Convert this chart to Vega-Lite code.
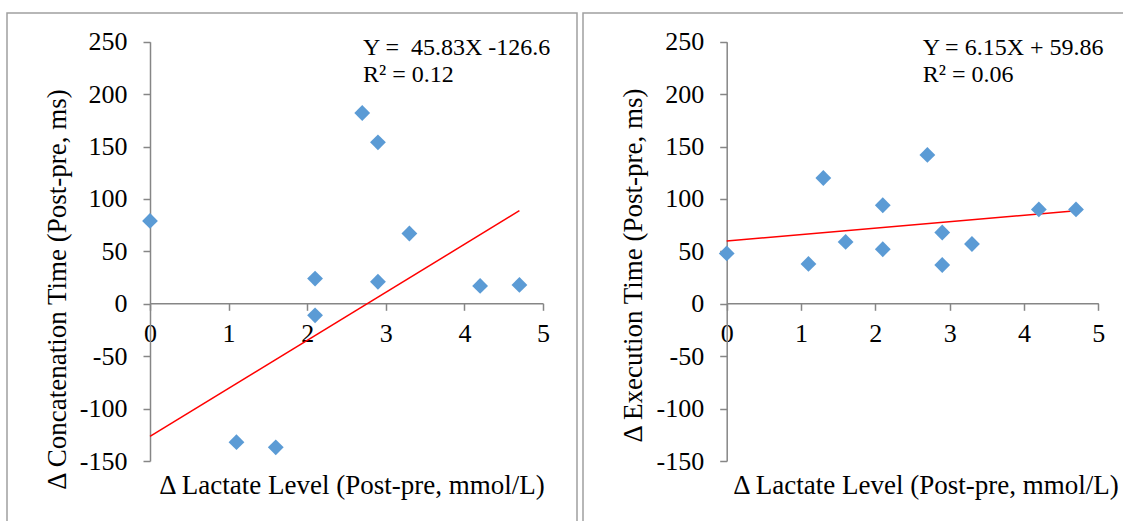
{
  "$schema": "https://vega.github.io/schema/vega-lite/v6.json",
  "padding": {"left": 6, "top": 12, "right": 0, "bottom": 0},
  "bounds": "flush",
  "spacing": 6,
  "config": {
    "view": {"stroke": "#a0a0a0", "strokeWidth": 1.5},
    "axis": {
      "labelFont": "Liberation Serif", "titleFont": "Liberation Serif",
      "labelFontSize": 26, "titleFontSize": 27, "titleFontWeight": "normal",
      "labelColor": "#000000", "titleColor": "#000000",
      "domainColor": "#868686", "tickColor": "#868686",
      "domainWidth": 1.5, "tickWidth": 1.5, "tickSize": 7, "grid": false,
      "labelFlush": false, "labelOverlap": false,
      "labelExpr": "toString(datum.value)"
    }
  },
  "datasets": {
    "conc": [
      {"lactate": 0, "delta": 79}, {"lactate": 1.1, "delta": -132}, {"lactate": 1.6, "delta": -137},
      {"lactate": 2.1, "delta": 24}, {"lactate": 2.1, "delta": -11}, {"lactate": 2.7, "delta": 182},
      {"lactate": 2.9, "delta": 154}, {"lactate": 2.9, "delta": 21}, {"lactate": 3.3, "delta": 67},
      {"lactate": 4.2, "delta": 17}, {"lactate": 4.7, "delta": 18}
    ],
    "exec": [
      {"lactate": 0, "delta": 48}, {"lactate": 1.1, "delta": 38}, {"lactate": 1.3, "delta": 120},
      {"lactate": 1.6, "delta": 59}, {"lactate": 2.1, "delta": 94}, {"lactate": 2.1, "delta": 52},
      {"lactate": 2.7, "delta": 142}, {"lactate": 2.9, "delta": 68}, {"lactate": 2.9, "delta": 37},
      {"lactate": 3.3, "delta": 57}, {"lactate": 4.2, "delta": 90}, {"lactate": 4.7, "delta": 90}
    ],
    "fitc": [{"lactate": 0, "delta": -126.6}, {"lactate": 4.7, "delta": 88.8}],
    "fite": [{"lactate": 0, "delta": 59.86}, {"lactate": 4.7, "delta": 88.8}],
    "eqc": [{"label": "Y =\u00a0 45.83X -126.6\nR² = 0.12"}],
    "eqe": [{"label": "Y = 6.15X + 59.86\nR² = 0.06"}]
  },
  "hconcat": [
    {
      "width": 570, "height": 510,
      "layer": [
        {
          "data": {"name": "fitc"},
          "mark": {"type": "line", "color": "#ff0000", "strokeWidth": 1.5},
          "encoding": {
            "x": {"field": "lactate", "type": "quantitative",
              "scale": {"domain": [0, 5], "range": [143, 536]},
              "axis": {"values": [0, 1, 2, 3, 4, 5], "offset": -219.7, "labelPadding": 10,
                "title": "Δ Lactate Level (Post-pre, mmol/L)", "titleX": 344.5, "titleY": 189.7,
                "titleAlign": "center", "titleBaseline": "alphabetic"}},
            "y": {"field": "delta", "type": "quantitative",
              "scale": {"domain": [-150, 250], "range": [448, 28.7]},
              "axis": {"values": [-150, -100, -50, 0, 50, 100, 150, 200, 250], "offset": -143, "labelPadding": 16,
                "title": "Δ Concatenation Time (Post-pre, ms)", "titleX": -85, "titleY": 276, "titleAngle": 270,
                "titleAlign": "center", "titleBaseline": "alphabetic"}}
          }
        },
        {
          "data": {"name": "conc"},
          "mark": {"type": "point", "shape": "diamond", "filled": true, "size": 250, "color": "#5b9bd5", "opacity": 1},
          "encoding": {
            "x": {"field": "lactate", "type": "quantitative"},
            "y": {"field": "delta", "type": "quantitative"}
          }
        },
        {
          "data": {"name": "eqc"},
          "mark": {"type": "text", "font": "Liberation Serif", "fontSize": 24, "align": "left", "baseline": "alphabetic", "lineBreak": "\n", "lineHeight": 26.7, "color": "#000000"},
          "encoding": {
            "x": {"datum": 2.71, "type": "quantitative"},
            "y": {"datum": 237, "type": "quantitative"},
            "text": {"field": "label"}
          }
        }
      ]
    },
    {
      "width": 545, "height": 510,
      "layer": [
        {
          "data": {"name": "fite"},
          "mark": {"type": "line", "color": "#ff0000", "strokeWidth": 1.5},
          "encoding": {
            "x": {"field": "lactate", "type": "quantitative",
              "scale": {"domain": [0, 5], "range": [143.7, 515.3]},
              "axis": {"values": [0, 1, 2, 3, 4, 5], "offset": -219.7, "labelPadding": 10,
                "title": "Δ Lactate Level (Post-pre, mmol/L)", "titleX": 342.4, "titleY": 189.7,
                "titleAlign": "center", "titleBaseline": "alphabetic"}},
            "y": {"field": "delta", "type": "quantitative",
              "scale": {"domain": [-150, 250], "range": [448, 28.7]},
              "axis": {"values": [-150, -100, -50, 0, 50, 100, 150, 200, 250], "offset": -143.7, "labelPadding": 16,
                "title": "Δ Execution Time (Post-pre, ms)", "titleX": -85, "titleY": 252, "titleAngle": 270,
                "titleAlign": "center", "titleBaseline": "alphabetic"}}
          }
        },
        {
          "data": {"name": "exec"},
          "mark": {"type": "point", "shape": "diamond", "filled": true, "size": 250, "color": "#5b9bd5", "opacity": 1},
          "encoding": {
            "x": {"field": "lactate", "type": "quantitative"},
            "y": {"field": "delta", "type": "quantitative"}
          }
        },
        {
          "data": {"name": "eqe"},
          "mark": {"type": "text", "font": "Liberation Serif", "fontSize": 24, "align": "left", "baseline": "alphabetic", "lineBreak": "\n", "lineHeight": 26.7, "color": "#000000"},
          "encoding": {
            "x": {"datum": 2.637, "type": "quantitative"},
            "y": {"datum": 237, "type": "quantitative"},
            "text": {"field": "label"}
          }
        }
      ]
    }
  ]
}
